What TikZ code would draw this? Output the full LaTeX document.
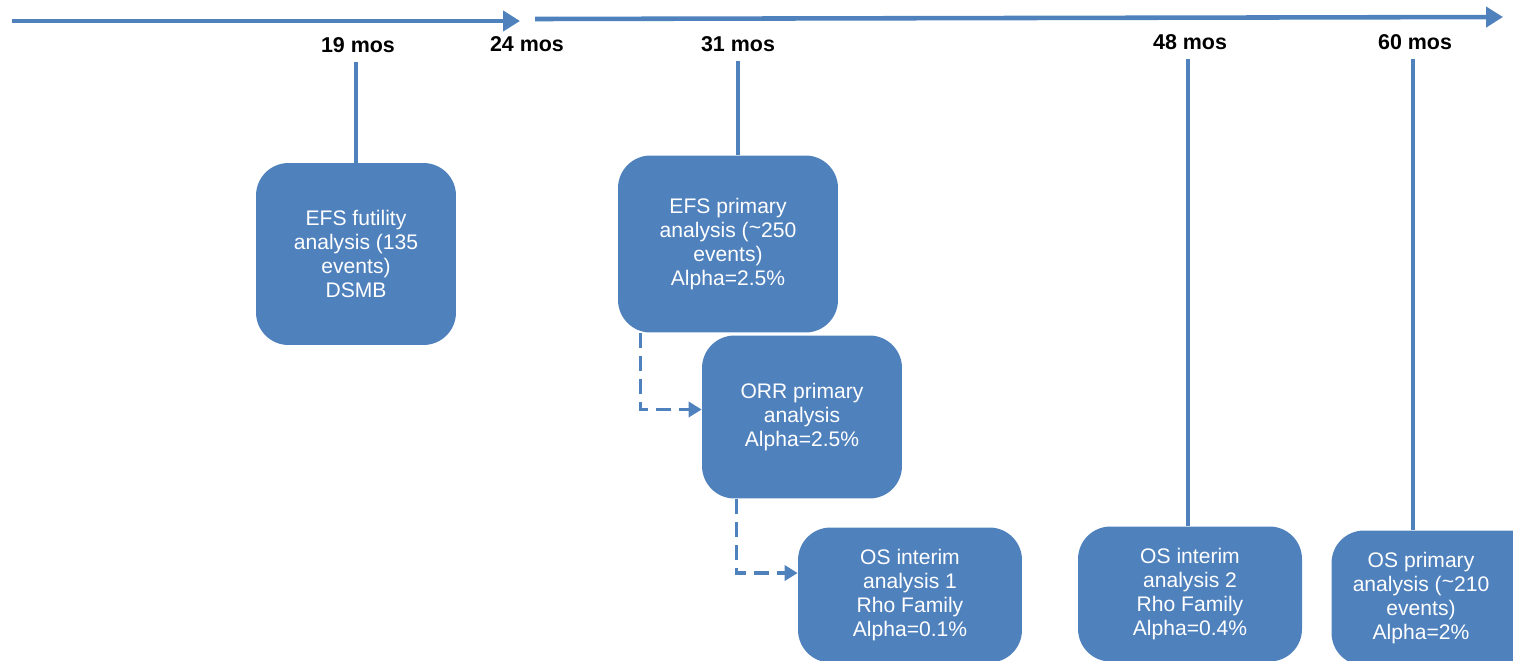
\documentclass[tikz,border=0pt]{standalone}
\usepackage{fontspec}
\setmainfont{Liberation Sans}
\usetikzlibrary{arrows.meta}
\definecolor{trialblue}{HTML}{4F81BD}
\begin{document}
\begin{tikzpicture}[x=0.02cm,y=-0.02cm,
        box/.style={draw=none, fill=trialblue, text=white, rounded corners=0.65cm,
            align=center, font=\fontsize{12}{13.6}\selectfont},
        boxtext/.style={text=white, align=center, font=\fontsize{12}{13.6}\selectfont},
        mos/.style={font=\fontsize{12.2}{13}\selectfont\bfseries, inner sep=2pt},
        timeline/.style={trialblue, line width=2.6pt, -{Triangle[length=0.34cm,width=0.4cm]}},
        tick/.style={trialblue, line width=1.8pt, shorten <=0.12cm},
        follow/.style={trialblue, line width=2pt, dash pattern=on 0.3cm off 0.16cm,
            -{Triangle[length=0.26cm,width=0.3cm]}}]
        \newcommand{\boxw}{4cm}
        \newcommand{\lowh}{2.7cm}

        \useasboundingbox (0,0) rectangle (1513,660);

        % time axis
        \coordinate (ax1a) at (12,21);
        \coordinate (ax1b) at (520,21);
        \coordinate (ax2a) at (535,19);
        \coordinate (ax2b) at (1503,17);
        \draw[timeline] (ax1a) -- (ax1b);
        \draw[timeline] (ax2a) -- (ax2b);

        % months
        \node[mos] (l19) at (358,45) {19 mos};
        \node[mos] (l24) at (527,44) {24 mos};
        \node[mos] (l31) at (738,44) {31 mos};
        \node[mos] (l48) at (1190,42) {48 mos};
        \node[mos] (l60) at (1415,42) {60 mos};

        % analyses
        \node[box, minimum width=\boxw, minimum height=3.64cm] (efsfut) at (356,254)
            {EFS futility\\analysis (135\\events)\\DSMB};
        \node[box, minimum width=4.4cm, minimum height=3.54cm] (efsprim) at (728,244)
            {EFS primary\\analysis ({\raisebox{0.25ex}{\textasciitilde}}250\\events)\\Alpha=2.5\%};
        \node[box, minimum width=\boxw, minimum height=3.26cm] (orr) at (802,417)
            {ORR primary\\analysis\\Alpha=2.5\%};
        \node[box, minimum width=4.48cm, minimum height=\lowh] (osint1) at (910,595)
            {OS interim\\analysis 1\\Rho Family\\Alpha=0.1\%};
        \node[box, minimum width=4.48cm, minimum height=\lowh] (osint2) at (1190,594)
            {OS interim\\analysis 2\\Rho Family\\Alpha=0.4\%};
        % runs off the page on the right
        \node[box, minimum width=4.3cm, minimum height=\lowh] (osprim) at (1439,598) {};
        \node[boxtext] (osprimtxt) at (1421,598)
            {OS primary\\analysis ({\raisebox{0.25ex}{\textasciitilde}}210\\events)\\Alpha=2\%};

        % ticks
        \draw[tick] (l19.south -| efsfut.north) -- (efsfut.north);
        \draw[tick] (l31.south) -- (l31.south |- efsprim.north);
        \draw[tick] ([xshift=-0.04cm]l48.south) -- ([xshift=-0.04cm]l48.south |- osint2.north);
        \draw[tick] ([xshift=-0.04cm]l60.south) -- ([xshift=-0.04cm]l60.south |- osprim.north);

        % follow-up analyses
        \draw[follow] ([xshift=0.46cm]efsprim.south west) |- ([yshift=0.15cm]orr.west);
        \draw[follow] ([xshift=0.7cm]orr.south west) |- ([yshift=0.44cm]osint1.west);
\end{tikzpicture}
\end{document}
